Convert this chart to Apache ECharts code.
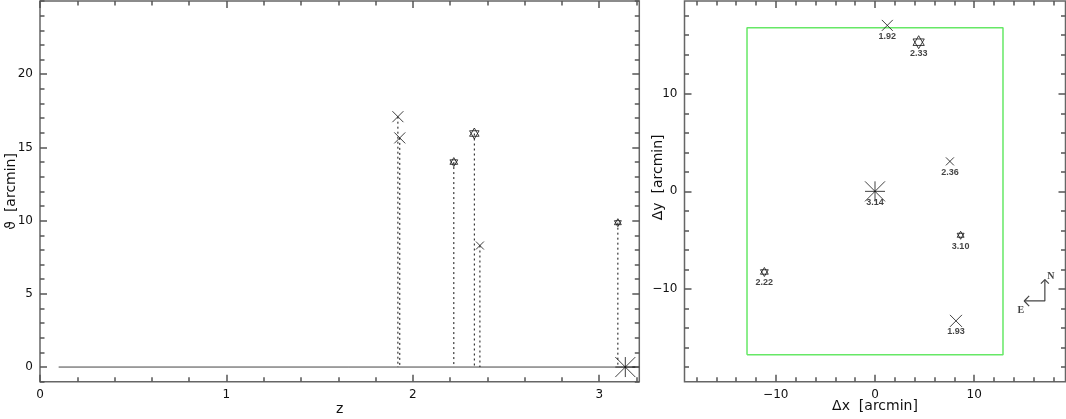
<!DOCTYPE html>
<html>
<head>
<meta charset="utf-8">
<script src="https://cdn.jsdelivr.net/npm/echarts@6/dist/echarts.min.js"></script>
<style>
  html, body { margin: 0; padding: 0; background: #fff; }
  #chart { width: 1066px; height: 419px; }
</style>
</head>
<body>
<div id="chart"></div>
<script>
// sources: redshift, angular distance from the centre, sky offsets
const zValues = [1.92, 1.93, 2.22, 2.33, 2.36, 3.10, 3.14];
const thetaValues = [17.1, 15.65, 14.0, 15.95, 8.3, 9.86, 0];
const dxValues = [1.24, 8.16, -11.15, 4.4, 7.55, 8.63, 0];
const dyValues = [17.0, -13.27, -8.26, 15.28, 3.07, -4.5, 0];
const kinds = ['cross', 'cross', 'star', 'star', 'cross', 'star', 'asterisk'];

// axis tick labels
const leftXTicks = [0, 1, 2, 3];
const leftYTicks = [0, 5, 10, 15, 20];
const rightTicks = [-10, 0, 10];

// field of view rectangle (arcmin)
const fieldX = [-12.9, 12.9];
const fieldY = [-16.75, 16.75];

// marker look
const symbolPaths = {
  cross: 'path://M0,0L10,10M10,0L0,10',
  star: 'path://M5,0L9.33,7.5L0.67,7.5Z M5,10L0.67,2.5L9.33,2.5Z',
  asterisk: 'path://M0,0L10,10M10,0L0,10M5,0L5,10M0,5L10,5'
};
const sizeLeft = [11, 11, 9, 11, 8, 8, 20];
const sizeRight = [11, 12, 9, 13, 8, 8, 20];

const frameColor = '#666';
const tickColor = '#555';
const ink = '#111';
const tickFont = { fontFamily: 'DejaVu Sans', fontSize: 12, color: ink };

function minorList(from, to, step) {
  const out = [];
  for (let v = from; v <= to + 1e-9; v += step) out.push(Math.round(v * 100) / 100);
  return out;
}

function fmt(v) {
  return String(v).replace('-', '\u2212');
}

// four axes per side pair: labelled major, minor, mirrored major, mirrored minor
function makeAxes(gridIndex, side, mirror, min, max, major, minor, name, nameGap, namePad) {
  const base = {
    type: 'value', gridIndex: gridIndex, min: min, max: max,
    splitLine: { show: false },
    axisLine: { show: false, onZero: false }
  };
  const tick = (vals, len) => ({
    show: true, inside: true, length: len, customValues: vals,
    lineStyle: { color: tickColor, width: 1.5 }
  });
  const noLabel = { show: false };
  return [
    Object.assign({}, base, {
      position: side,
      axisTick: tick(major, 7),
      axisLabel: Object.assign({ show: true, customValues: major, margin: 7, formatter: fmt }, tickFont),
      name: name, nameLocation: 'middle', nameGap: nameGap, nameMoveOverlap: false,
      nameTextStyle: { fontFamily: 'DejaVu Sans', fontSize: 14, color: ink, padding: namePad || 0 }
    }),
    Object.assign({}, base, { position: side, axisTick: tick(minor, 4.5), axisLabel: noLabel }),
    Object.assign({}, base, { position: mirror, axisTick: tick(major, 7), axisLabel: noLabel }),
    Object.assign({}, base, { position: mirror, axisTick: tick(minor, 4.5), axisLabel: noLabel })
  ];
}

const xAxes = [].concat(
  makeAxes(0, 'bottom', 'top', 0, 3.215, leftXTicks, minorList(0, 3.2, 0.2), 'z', 21),
  makeAxes(1, 'bottom', 'top', -19.2, 19.2, rightTicks, minorList(-18, 18, 2), '\u0394x  [arcmin]', 18)
);
const yAxes = [].concat(
  makeAxes(0, 'left', 'right', -1, 25, leftYTicks, minorList(-1, 25, 1), '\u03D1  [arcmin]', 22),
  makeAxes(1, 'left', 'right', -19.5, 19.5, rightTicks, minorList(-18, 18, 2), '\u0394y  [arcmin]', 19, [0, 0, 0, 28])
);

const series = [];

// left panel: baseline at theta = 0
series.push({
  type: 'line', xAxisIndex: 0, yAxisIndex: 0, silent: true, symbol: 'none',
  data: [[0.1, 0], [3.215, 0]],
  lineStyle: { color: '#444', width: 1 }
});

// left panel: dotted stems
zValues.forEach((z, i) => {
  series.push({
    type: 'line', xAxisIndex: 0, yAxisIndex: 0, silent: true, symbol: 'none',
    data: [[z, thetaValues[i]], [z, 0]],
    lineStyle: { color: ink, width: 1, type: [2, 3] }
  });
});

function markerStyle() {
  return { color: 'transparent', borderColor: ink, borderWidth: 1 };
}

// left panel: markers
series.push({
  type: 'scatter', xAxisIndex: 0, yAxisIndex: 0, z: 5,
  symbolKeepAspect: true,
  data: zValues.map((z, i) => ({
    value: [z, thetaValues[i]],
    symbol: symbolPaths[kinds[i]],
    symbolSize: sizeLeft[i]
  })),
  itemStyle: markerStyle()
});

// right panel: field of view
series.push({
  type: 'line', xAxisIndex: 4, yAxisIndex: 4, silent: true, symbol: 'none',
  data: [[fieldX[0], fieldY[0]], [fieldX[1], fieldY[0]], [fieldX[1], fieldY[1]],
         [fieldX[0], fieldY[1]], [fieldX[0], fieldY[0]]],
  lineStyle: { color: '#66e866', width: 1.5 }
});

// right panel: sources with redshift labels
series.push({
  type: 'scatter', xAxisIndex: 4, yAxisIndex: 4, z: 5,
  symbolKeepAspect: true,
  data: zValues.map((z, i) => ({
    value: [dxValues[i], dyValues[i]],
    symbol: symbolPaths[kinds[i]],
    symbolSize: sizeRight[i],
    name: z.toFixed(2)
  })),
  itemStyle: markerStyle(),
  label: {
    show: true, position: 'inside', offset: [0, 11],
    formatter: p => p.name,
    fontFamily: 'Liberation Sans', fontWeight: 'bold', fontSize: 9, color: ink
  }
});

// compass: N up, E left
const compassO = [17.12, -11.23];
const compassN = [17.12, -9.04];
const compassE = [15.04, -11.23];
const compassLines = [
  [compassE, compassO, compassN],
  [[compassN[0] - 0.4, compassN[1] - 0.42], compassN, [compassN[0] + 0.4, compassN[1] - 0.42]],
  [[compassE[0] + 0.5, compassE[1] + 0.52], compassE, [compassE[0] + 0.5, compassE[1] - 0.52]]
];
compassLines.forEach(pts => {
  series.push({
    type: 'line', xAxisIndex: 4, yAxisIndex: 4, silent: true, symbol: 'none',
    data: pts, lineStyle: { color: '#444', width: 1.2 }
  });
});
series.push({
  type: 'scatter', xAxisIndex: 4, yAxisIndex: 4, silent: true, symbolSize: 0,
  data: [
    { value: [compassN[0] + 0.6, compassN[1] + 0.35], name: 'N' },
    { value: [compassE[0] - 0.35, compassE[1] - 0.95], name: 'E' }
  ],
  label: {
    show: true, position: 'inside', formatter: p => p.name,
    fontFamily: 'Liberation Serif', fontWeight: 'bold', fontSize: 10, color: ink
  }
});

const chart = echarts.init(document.getElementById('chart'), null, { renderer: 'canvas' });
chart.setOption({
  animation: false,
  backgroundColor: '#fff',
  grid: [
    { left: 40, top: 1, width: 599.3, height: 380.7, show: true, borderColor: frameColor, borderWidth: 1.5,
      containLabel: false, outerBoundsMode: 'none' },
    { left: 684.5, top: 1, width: 381, height: 380.7, show: true, borderColor: frameColor, borderWidth: 1.5,
      containLabel: false, outerBoundsMode: 'none' }
  ],
  xAxis: xAxes,
  yAxis: yAxes,
  series: series
});
</script>
</body>
</html>
